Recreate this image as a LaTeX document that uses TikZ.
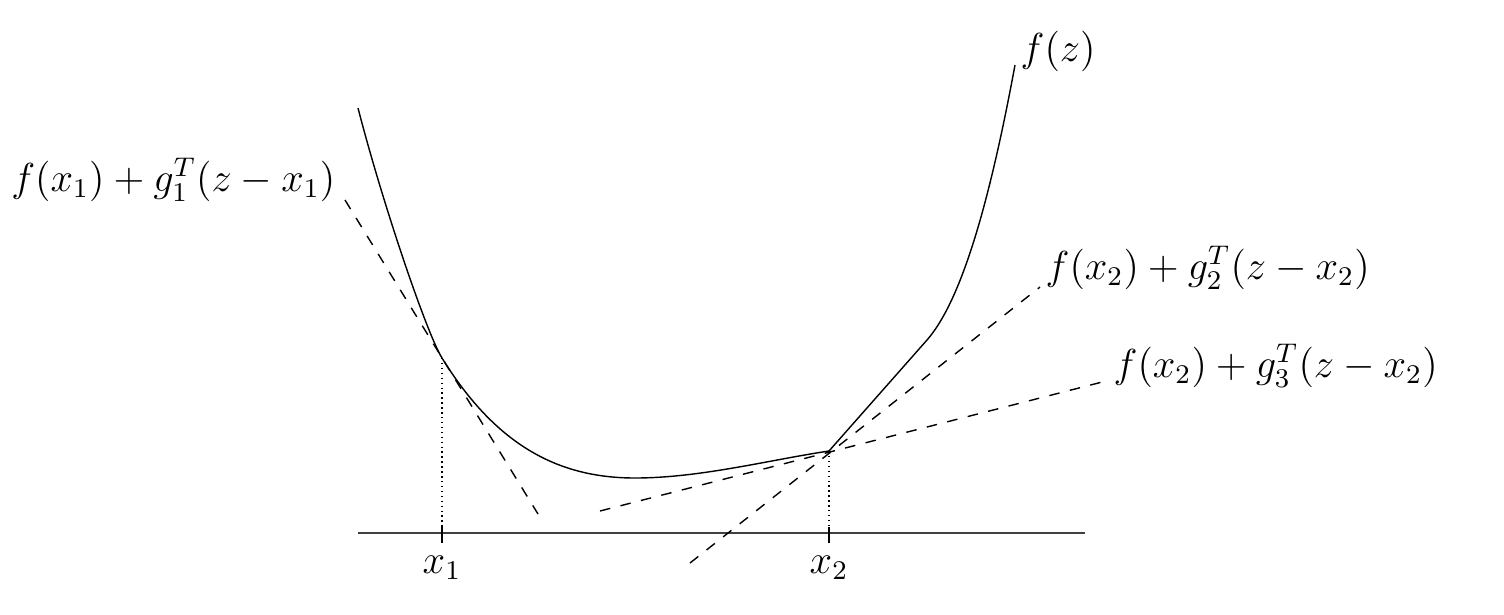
\documentclass[tikz,border=0pt]{standalone}
\tikzset{
  tangent/.style={dashed,thin},
  guide/.style={densely dotted,thin},
  lbl/.style={inner sep=0pt,scale=0.96,font=\fontsize{12}{14}\selectfont}
}
\begin{document}
\begin{tikzpicture}
\useasboundingbox(0,0)rectangle(15.04,6.14);
%points of contact
\coordinate(p1)at(4.42,2.56);
\coordinate(p2)at(8.29,1.63);
%axis
\draw[black!75](3.58,0.81)--(10.85,0.81);
\draw(4.42,0.87)--(4.42,0.71);
\draw(8.29,0.87)--(8.29,0.71);
\node[lbl,anchor=north]at(4.42,0.59){$x_1$};
\node[lbl,anchor=north]at(8.29,0.59){$x_2$};
\draw[guide](p1)--(4.42,0.81);
\draw[guide](p2)--(8.29,0.81);
%function
\draw[thin](3.58,5.06)..controls(3.83,4.09)and(4.27,2.80)..(p1)
  ..controls(4.97,1.67)and(5.60,1.36)..(6.35,1.36)
  ..controls(7.00,1.36)and(7.69,1.54)..(p2)
  --(9.27,2.74)..controls(9.62,3.14)and(9.90,4.14)..(10.15,5.49);
\node[lbl,anchor=west]at(10.20,5.63){$f(z)$};
%tangents
\draw[tangent](3.45,4.14)--(5.38,1.00);
\draw[tangent](6.90,0.51)--(10.40,3.27);
\draw[tangent](6.00,1.03)--(11.10,2.34);
\node[lbl,anchor=east]at(3.36,4.34){$f(x_1)+g_1^T(z-x_1)$};
\node[lbl,anchor=west]at(10.45,3.46){$f(x_2)+g_2^T(z-x_2)$};
\node[lbl,anchor=west]at(11.13,2.48){$f(x_2)+g_3^T(z-x_2)$};
\end{tikzpicture}
\end{document}
